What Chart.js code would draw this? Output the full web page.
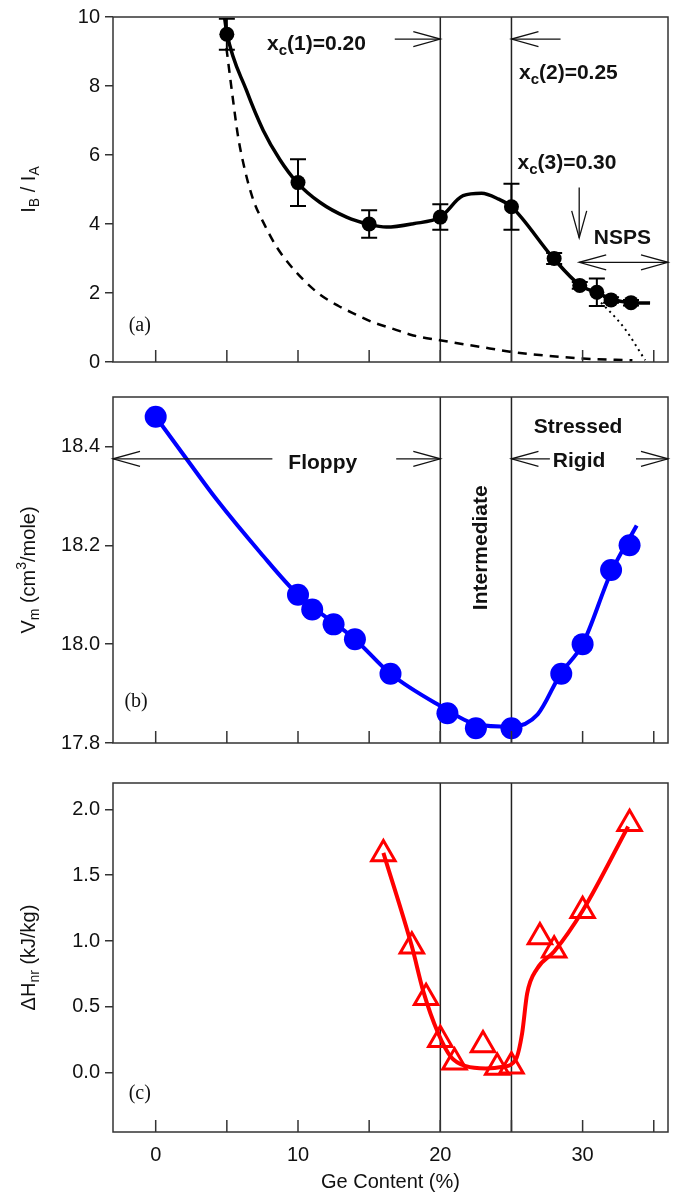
<!DOCTYPE html>
<html lang="en">
<head>
<meta charset="UTF-8">
<title>Ge content: I_B/I_A, V_m, ΔH_nr</title>
<style>
  body { margin: 0; background: #fff; }
  .panel { position: absolute; left: 0; }
  .panel canvas { display: block; }
</style>
</head>
<body>
<div class="panel" style="top:0"><canvas id="chartA" width="681" height="380"></canvas></div>
<div class="panel" style="top:380px"><canvas id="chartB" width="681" height="380"></canvas></div>
<div class="panel" style="top:760px"><canvas id="chartC" width="681" height="434"></canvas></div>

<script src="https://cdn.jsdelivr.net/npm/chart.js"></script>
<script>
const SANS = "'Liberation Sans', Arial, Helvetica, sans-serif";
const SERIF = "'Liberation Serif', 'Times New Roman', serif";
Chart.defaults.font.family = SANS;
Chart.defaults.color = '#111';

// shared x axis
const xTicks = [0, 5, 10, 15, 20, 25, 30, 35];
const xTickLabels = [0, 10, 20, 30];
const phaseBounds = [20, 25];

// (a) I_B / I_A
const aTicks = [0, 2, 4, 6, 8, 10];
const aGe = [5, 10, 15, 20, 25, 28, 29.8, 31, 32, 33.4];
const aRatio = [9.5, 5.2, 4.0, 4.2, 4.5, 3.0, 2.22, 2.02, 1.8, 1.72];
const aErr = [0.45, 0.68, 0.4, 0.37, 0.67, 0.16, 0.1, 0.4, 0.08, 0.08];
const aFitGe = [4.85, 5.0, 6.38, 7.55, 8.72, 9.94, 11.53, 13.41, 15.0, 16.2, 18.1, 20.0, 21.6, 22.9, 24.1, 25.0, 27.94, 29.8, 31.0, 32.05, 33.45, 34.74];
const aFitRatio = [9.95, 9.53, 7.87, 6.72, 5.87, 5.2, 4.63, 4.2, 3.99, 3.91, 4.01, 4.2, 4.82, 4.89, 4.72, 4.5, 3.01, 2.23, 2.01, 1.82, 1.72, 1.71];
const aDashGe = [4.97, 5.44, 5.79, 6.26, 6.84, 7.67, 8.49, 9.42, 10.48, 11.53, 12.82, 14.0, 15.28, 16.69, 18.1, 19.97, 22.8, 24.9, 26.3, 30.0, 33.5];
const aDashRatio = [9.1, 7.58, 6.53, 5.58, 4.72, 3.96, 3.34, 2.82, 2.34, 1.96, 1.63, 1.39, 1.15, 0.96, 0.77, 0.63, 0.44, 0.3, 0.23, 0.1, 0.05];
const aDotGe = [31, 32.9, 34.4];
const aDotRatio = [1.85, 1.0, 0.05];

// (b) molar volume
const bTicks = [17.8, 18.0, 18.2, 18.4];
const bGe = [0, 10, 11, 12.5, 14, 16.5, 20.5, 22.5, 25, 28.5, 30, 32, 33.3];
const bVm = [18.46, 18.10, 18.07, 18.04, 18.01, 17.94, 17.86, 17.83, 17.83, 17.94, 18.00, 18.15, 18.20];
const bFitGe = [0, 2.16, 4.27, 7.36, 10, 14, 16.5, 20, 22.5, 25, 26.84, 28.45, 30, 32, 33.8];
const bFitVm = [18.46, 18.375, 18.293, 18.185, 18.10, 18.01, 17.94, 17.875, 17.838, 17.833, 17.858, 17.94, 18.0, 18.145, 18.24];

// (c) non-reversing enthalpy
const cTicks = [0, 0.5, 1.0, 1.5, 2.0];
const cGe = [16, 18, 19, 20, 21, 23, 24, 25, 27, 28, 30, 33.3];
const cDH = [1.66, 0.96, 0.57, 0.25, 0.08, 0.21, 0.04, 0.05, 1.03, 0.93, 1.23, 1.89];
const cFitGe = [16, 18, 18.8, 19.85, 20.75, 21.8, 23.2, 24.4, 25.3, 25.75, 26.1, 26.8, 28.0, 30.0, 33.2];
const cFitDH = [1.67, 0.96, 0.62, 0.30, 0.12, 0.05, 0.033, 0.045, 0.10, 0.30, 0.60, 0.79, 0.92, 1.23, 1.87];

// annotations (data coordinates)
const aArrows = [
  { from: [16.8, 9.36], to: [20, 9.36] },
  { from: [28.45, 9.36], to: [25, 9.36] },
  { from: [29.76, 5.06], to: [29.76, 3.6] },
  { from: [29.76, 2.89], to: [36, 2.89], both: true }
];
const aTexts = [
  { at: [11.3, 9.2], parts: [['x'], ['c', 'sub'], ['(1)=0.20']], bold: true },
  { at: [29.0, 8.38], parts: [['x'], ['c', 'sub'], ['(2)=0.25']], bold: true },
  { at: [28.9, 5.76], parts: [['x'], ['c', 'sub'], ['(3)=0.30']], bold: true },
  { at: [32.8, 3.6], parts: [['NSPS']], bold: true },
  { at: [-1.9, 1.06], parts: [['(a)']], serif: true, align: 'left' }
];
const bArrows = [
  { from: [8.2, 18.375], to: [-3, 18.375] },
  { from: [16.9, 18.375], to: [20, 18.375] },
  { from: [27.7, 18.375], to: [25, 18.375] },
  { from: [33.75, 18.375], to: [36, 18.375] }
];
const bTexts = [
  { at: [11.74, 18.366], parts: [['Floppy']], bold: true },
  { at: [29.68, 18.439], parts: [['Stressed']], bold: true },
  { at: [29.75, 18.37], parts: [['Rigid']], bold: true },
  { at: [22.9, 18.195], parts: [['Intermediate']], bold: true, rotate: true },
  { at: [-2.2, 17.884], parts: [['(b)']], serif: true, align: 'left' }
];
const cTexts = [
  { at: [-1.9, -0.16], parts: [['(c)']], serif: true, align: 'left' }
];

const pts = (xs, ys) => xs.map((x, i) => ({ x, y: ys[i] }));

function drawRich(ctx, parts, x, y, opt) {
  const size = opt.size || 20;
  const fam = opt.serif ? SERIF : SANS;
  const weight = opt.bold ? 'bold ' : '';
  const fontFor = m => weight + (m ? Math.round(size * 0.7) : size) + 'px ' + fam;
  let total = 0;
  parts.forEach(([t, m]) => { ctx.font = fontFor(m); total += ctx.measureText(t).width; });
  let cx = opt.align === 'left' ? x : x - total / 2;
  ctx.textBaseline = 'middle';
  ctx.textAlign = 'left';
  parts.forEach(([t, m]) => {
    ctx.font = fontFor(m);
    const dy = m === 'sub' ? size * 0.32 : m === 'sup' ? -size * 0.35 : 0;
    ctx.fillText(t, cx, y + dy);
    cx += ctx.measureText(t).width;
  });
}

function arrowHead(ctx, fx, fy, tx, ty) {
  const ang = Math.atan2(ty - fy, tx - fx);
  const L = 27, W = 7.5;
  const bx = tx - L * Math.cos(ang), by = ty - L * Math.sin(ang);
  const nx = -Math.sin(ang) * W, ny = Math.cos(ang) * W;
  ctx.beginPath();
  ctx.moveTo(bx + nx, by + ny);
  ctx.lineTo(tx, ty);
  ctx.lineTo(bx - nx, by - ny);
  ctx.stroke();
}

function decorPlugin(cfg) {
  return {
    id: 'decor',
    beforeDatasetsDraw(chart) {
      const { ctx, chartArea: ca, scales: { x, y } } = chart;
      ctx.save();
      ctx.strokeStyle = '#222';
      ctx.lineWidth = 1.5;
      phaseBounds.forEach(v => {
        const px = x.getPixelForValue(v);
        ctx.beginPath(); ctx.moveTo(px, ca.top); ctx.lineTo(px, ca.bottom); ctx.stroke();
      });
      if (cfg.err) {
        ctx.strokeStyle = '#000';
        ctx.lineWidth = 2;
        cfg.err.xs.forEach((gx, i) => {
          const px = x.getPixelForValue(gx);
          const top = y.getPixelForValue(cfg.err.ys[i] + cfg.err.e[i]);
          const bot = y.getPixelForValue(cfg.err.ys[i] - cfg.err.e[i]);
          ctx.beginPath();
          ctx.moveTo(px, top); ctx.lineTo(px, bot);
          ctx.moveTo(px - 8, top); ctx.lineTo(px + 8, top);
          ctx.moveTo(px - 8, bot); ctx.lineTo(px + 8, bot);
          ctx.stroke();
        });
      }
      ctx.restore();
    },
    afterDraw(chart) {
      const { ctx, chartArea: ca, scales: { x, y } } = chart;
      ctx.save();
      // frame
      ctx.strokeStyle = '#333';
      ctx.lineWidth = 1.5;
      ctx.strokeRect(ca.left, ca.top, ca.right - ca.left, ca.bottom - ca.top);
      // inward x ticks
      xTicks.forEach(v => {
        const px = x.getPixelForValue(v);
        ctx.beginPath(); ctx.moveTo(px, ca.bottom); ctx.lineTo(px, ca.bottom - 12); ctx.stroke();
      });
      // arrows
      ctx.strokeStyle = '#111';
      ctx.lineWidth = 1.3;
      (cfg.arrows || []).forEach(a => {
        const fx = x.getPixelForValue(a.from[0]), fy = y.getPixelForValue(a.from[1]);
        const tx = x.getPixelForValue(a.to[0]), ty = y.getPixelForValue(a.to[1]);
        ctx.beginPath(); ctx.moveTo(fx, fy); ctx.lineTo(tx, ty); ctx.stroke();
        arrowHead(ctx, fx, fy, tx, ty);
        if (a.both) arrowHead(ctx, tx, ty, fx, fy);
      });
      // texts
      ctx.fillStyle = '#111';
      (cfg.texts || []).forEach(t => {
        const px = x.getPixelForValue(t.at[0]), py = y.getPixelForValue(t.at[1]);
        const opt = { bold: t.bold, serif: t.serif, align: t.align, size: t.serif ? 20 : 21 };
        if (t.rotate) {
          ctx.save();
          ctx.translate(px, py);
          ctx.rotate(-Math.PI / 2);
          drawRich(ctx, t.parts, 0, 0, opt);
          ctx.restore();
        } else {
          drawRich(ctx, t.parts, px, py, opt);
        }
      });
      // y axis title
      ctx.save();
      ctx.translate(29, (ca.top + ca.bottom) / 2);
      ctx.rotate(-Math.PI / 2);
      drawRich(ctx, cfg.yTitle, 0, 0, { size: 20 });
      ctx.restore();
      ctx.restore();
    }
  };
}

function makePanel(id, cfg) {
  return new Chart(document.getElementById(id), {
    type: 'line',
    data: { datasets: cfg.datasets },
    options: {
      responsive: false,
      animation: false,
      events: [],
      layout: { autoPadding: false, padding: { top: cfg.padTop, bottom: cfg.padBottom, left: 0, right: 13 } },
      plugins: { legend: { display: false }, tooltip: { enabled: false } },
      scales: {
        x: {
          type: 'linear', min: -3, max: 36,
          afterBuildTicks: s => { s.ticks = xTicks.map(v => ({ value: v })); },
          afterFit: s => { s.height = cfg.xHeight; s.paddingLeft = 0; s.paddingRight = 0; },
          grid: { display: false },
          border: { display: false },
          ticks: {
            display: cfg.xLabels, padding: 3, font: { size: 20 }, color: '#111',
            maxRotation: 0, autoSkip: false,
            callback: v => xTickLabels.includes(v) ? String(v) : ''
          },
          title: {
            display: cfg.xLabels, text: 'Ge Content (%)', font: { size: 20 }, color: '#111',
            padding: { top: 0, bottom: 0 }
          }
        },
        y: {
          type: 'linear', min: cfg.yMin, max: cfg.yMax,
          afterBuildTicks: s => { s.ticks = cfg.yTicks.map(v => ({ value: v })); },
          afterFit: s => { s.width = 113; },
          grid: { drawOnChartArea: false, drawTicks: true, tickLength: 8, color: '#333', lineWidth: 1.5 },
          border: { display: false },
          ticks: { padding: 5, font: { size: 20 }, color: '#111', callback: cfg.yFmt }
        }
      }
    },
    plugins: [decorPlugin(cfg)]
  });
}

makePanel('chartA', {
  padTop: 12, padBottom: 18, xHeight: 0, xLabels: false,
  yMin: 0, yMax: 10, yTicks: aTicks, yFmt: v => String(v),
  yTitle: [['I'], ['B', 'sub'], [' / I'], ['A', 'sub']],
  err: { xs: aGe, ys: aRatio, e: aErr },
  arrows: aArrows, texts: aTexts,
  datasets: [
    { data: pts(aGe, aRatio), showLine: false, pointRadius: 7.5, pointBackgroundColor: '#000', pointBorderWidth: 0 },
    { data: pts(aFitGe, aFitRatio), borderColor: '#000', borderWidth: 3.5, pointRadius: 0, cubicInterpolationMode: 'monotone' },
    { data: pts(aDashGe, aDashRatio), borderColor: '#000', borderWidth: 2.5, borderDash: [9, 7], pointRadius: 0, cubicInterpolationMode: 'monotone' },
    { data: pts(aDotGe, aDotRatio), borderColor: '#000', borderWidth: 2, borderDash: [2, 4], pointRadius: 0, cubicInterpolationMode: 'monotone' }
  ]
});

makePanel('chartB', {
  padTop: 15, padBottom: 15, xHeight: 0, xLabels: false,
  yMin: 17.8, yMax: 18.5, yTicks: bTicks, yFmt: v => v.toFixed(1),
  yTitle: [['V'], ['m', 'sub'], [' (cm'], ['3', 'sup'], ['/mole)']],
  arrows: bArrows, texts: bTexts,
  datasets: [
    { data: pts(bGe, bVm), showLine: false, pointRadius: 11, pointBackgroundColor: '#0000ff', pointBorderWidth: 0 },
    { data: pts(bFitGe, bFitVm), borderColor: '#0000ff', borderWidth: 4, pointRadius: 0, cubicInterpolationMode: 'monotone' }
  ]
});

makePanel('chartC', {
  padTop: 23, padBottom: 0, xHeight: 62, xLabels: true,
  yMin: -0.45, yMax: 2.2, yTicks: cTicks, yFmt: v => v.toFixed(1),
  yTitle: [['ΔH'], ['nr', 'sub'], [' (kJ/kg)']],
  texts: cTexts,
  datasets: [
    { data: pts(cGe, cDH), showLine: false, pointStyle: 'triangle', pointRadius: 13.5, pointBorderColor: '#ff0000', pointBorderWidth: 3, pointBackgroundColor: 'rgba(0,0,0,0)' },
    { data: pts(cFitGe, cFitDH), borderColor: '#ff0000', borderWidth: 4, pointRadius: 0, cubicInterpolationMode: 'monotone' }
  ]
});
</script>
</body>
</html>
